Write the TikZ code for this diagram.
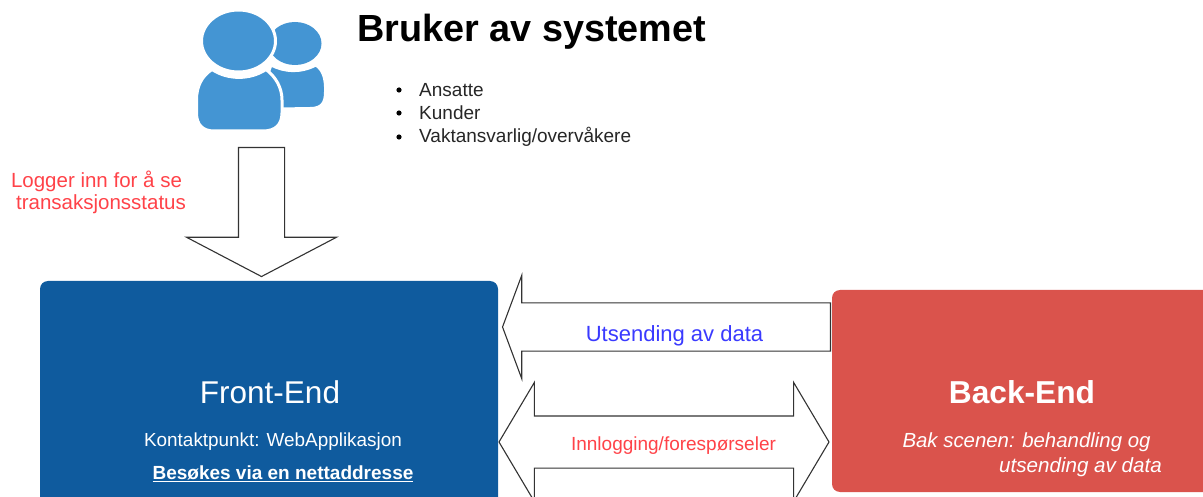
\documentclass[tikz,border=0pt]{standalone}
\usepackage{fontspec}
\setmainfont{Liberation Sans}
\usepackage{tikz}
\usetikzlibrary{shapes.arrows}

\definecolor{frontblue}{HTML}{0F5B9E}
\definecolor{backred}{HTML}{DA534C}
\definecolor{iconblue}{HTML}{4495D3}
\definecolor{labelred}{HTML}{FF4248}
\definecolor{labelblue}{HTML}{3A3AFF}

\tikzset{
    box/.style = {rectangle, rounded corners=8pt, inner sep=0pt, outer sep=0pt},
    blockarrow/.style = {draw=black!80, line width=1.1pt, fill=white, outer sep=0pt},
    whitetext/.style = {text=white, inner sep=0pt},
    listtext/.style = {anchor=west, inner sep=0pt, text=black!85, font=\fontsize{19}{21}\selectfont},
    redtext/.style = {inner sep=0pt, text=labelred, font=\fontsize{20.5}{23}\selectfont},
    person/.style = {fill=iconblue, draw=white, line width=3pt, line join=round}
}

\begin{document}
\begin{tikzpicture}[x=1pt,y=-1pt]
    \useasboundingbox (0,0) rectangle (1203,497);

    % users icon
    \fill[iconblue] (295,43.5) ellipse [x radius=26.5, y radius=21.5];
    \draw[person] (271,65) .. controls (285,72) and (300,73) .. (316,65)
        .. controls (323,70) and (326,78) .. (325.5,92) .. controls (325.5,104) and (321,108.5) .. (310,108.5)
        -- (280,109) -- (262,90) -- cycle;
    \draw[person] (238.5,41) ellipse [x radius=37, y radius=31];
    \draw[person] (212,69.5) .. controls (228,80) and (250,80) .. (266,69.5)
        .. controls (276,77) and (282,88) .. (282,100) -- (282,113) .. controls (282,125) and (275,131) .. (263,131)
        -- (214,131) .. controls (203,131) and (196.5,125) .. (196.5,113) -- (196.5,100)
        .. controls (196.5,86) and (202,76) .. (212,69.5) -- cycle;

    \node[anchor=west, inner sep=0pt, font=\fontsize{37.8}{40}\selectfont\bfseries] (title) at (357,32) {Bruker av systemet};
    \node[listtext] (ansatte) at (419,90) {Ansatte};
    \node[listtext] (kunder) at (419,113) {Kunder};
    \node[listtext] (vakt) at (419,137) {Vaktansvarlig/overvåkere};
    \fill[black] (399,90) circle (2.6pt) (399,113) circle (2.6pt) (399,137) circle (2.6pt);

    \node[single arrow, blockarrow, inner sep=22.5pt, shape border rotate=270, minimum height=129pt, minimum width=149pt,
        single arrow head extend=52pt, single arrow tip angle=124.7] (login) at (261.5,206) {};
    \node[redtext] (loginone) at (96.5,181) {Logger inn for å se};
    \node[redtext] (logintwo) at (101,204.5) {transaksjonsstatus};

    \node[box, fill=frontblue, minimum width=458pt, minimum height=232pt] (front) at (269,397) {};
    \node[whitetext, font=\fontsize{31.5}{36}\selectfont] (fronttitle) at (270,392) {Front-End};
    \node[whitetext, font=\fontsize{18.9}{20}\selectfont] (contact) at (273,441.5) {Kontaktpunkt: WebApplikasjon};
    \node[whitetext, font=\fontsize{19}{20}\selectfont\bfseries] (visit) at (283,474) {\underline{Besøkes via en nettaddresse}};

    \node[box, fill=backred, minimum width=400pt, minimum height=202pt] (back) at (1032,391) {};
    \node[whitetext, font=\fontsize{31.7}{36}\selectfont\bfseries] (backtitle) at (1022,392) {Back-End};
    \node[whitetext, font=\fontsize{20.4}{22}\selectfont\itshape] (backone) at (1026.5,442.5) {Bak scenen: behandling og};
    \node[whitetext, font=\fontsize{20.6}{22}\selectfont\itshape] (backtwo) at (1080.5,467.5) {utsending av data};

    \node[single arrow, blockarrow, inner sep=23.5pt, shape border rotate=180, minimum height=328pt, minimum width=102pt,
        single arrow head extend=27.5pt, single arrow tip angle=139.2] (send) at (671,327) {};
    \node[inner sep=0pt, text=labelblue, font=\fontsize{22}{24}\selectfont] (sendtext) at (674.5,335.5) {Utsending av data};

    \node[double arrow, blockarrow, inner sep=25.5pt, minimum height=330pt, minimum width=118pt,
        double arrow head extend=33.5pt, double arrow tip angle=118.6] (request) at (664,442) {};
    \node[inner sep=0pt, text=labelred, font=\fontsize{19}{20}\selectfont] (requesttext) at (673.5,446) {Innlogging/forespørseler};
\end{tikzpicture}
\end{document}
